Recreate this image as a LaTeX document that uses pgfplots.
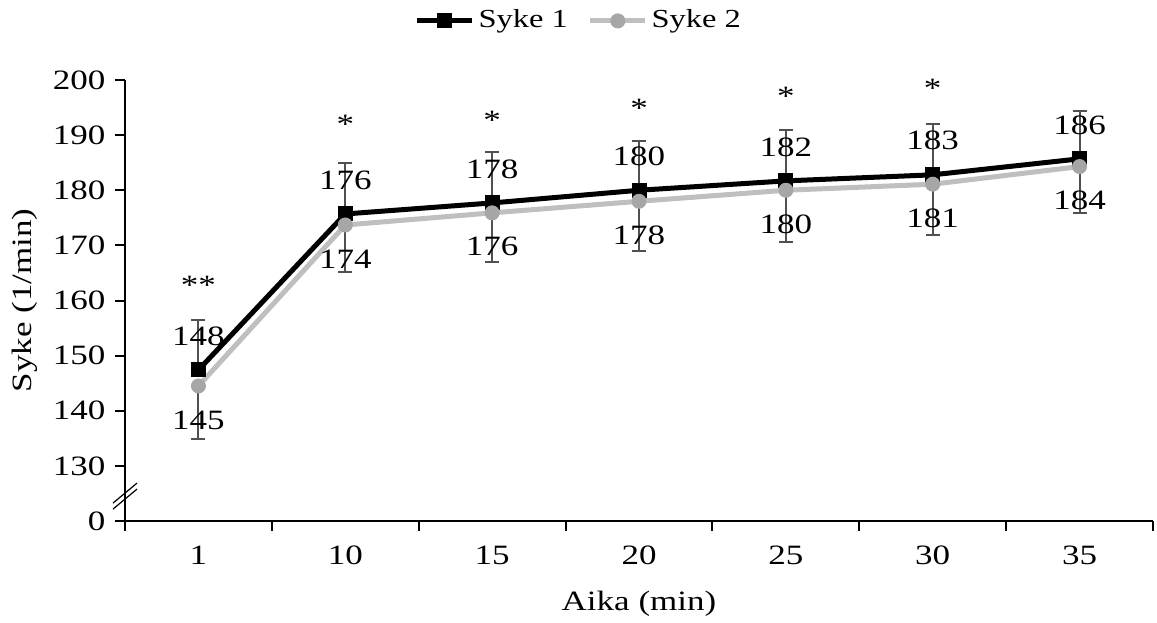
\documentclass[border=0pt]{standalone}
\usepackage{pgfplots}
\pgfplotsset{compat=1.18}
\usepackage{pgfplotstable}
\usepackage{fontspec}
\setmainfont[FakeStretch=1.25]{Liberation Serif}
\definecolor{sykeB}{HTML}{BFBFBF}
\definecolor{sykeBm}{HTML}{A6A6A6}
\definecolor{errc}{HTML}{505050}

\pgfplotstableread{
x y e lab
0 147.4 9.1 148
1 175.7 9.2 176
2 177.7 9.2 178
3 180.0 8.9 180
4 181.7 9.3 182
5 182.8 9.2 183
6 185.7 8.7 186
}\sykeone
\pgfplotstableread{
x y e lab
0 144.5 9.7 145
1 173.7 8.5 174
2 175.9 8.9 176
3 178.0 9.0 178
4 180.0 9.3 180
5 181.1 9.2 181
6 184.3 8.4 184
}\syketwo
\pgfplotstableread{
x y lab
0 162.8 {**}
1 191.9 {*}
2 192.6 {*}
3 194.8 {*}
4 197.1 {*}
5 198.4 {*}
}\stars

\begin{document}
\fontsize{14}{17}\selectfont
\begin{tikzpicture}[font=\fontsize{14}{17}\selectfont]
\path[use as bounding box] (-62.5pt,-50.5pt) rectangle (516pt,260.5pt);
\begin{axis}[
  at={(0pt,0pt)}, anchor=south west,
  scale only axis, width=514pt, height=220.5pt,
  xmin=-0.5, xmax=6.5, ymin=120, ymax=200,
  axis x line*=bottom, axis y line*=left,
  axis line style={-, line width=1pt, black},
  tick align=outside,
  tick style={line width=1pt, black},
  major tick length=5pt,
  ytick={120,130,...,200},
  yticklabels={0,130,140,150,160,170,180,190,200},
  yticklabel style={xshift=0pt},
  xtick={-0.5,0.5,...,6.5},
  xticklabels={},
  extra x ticks={0,1,2,3,4,5,6},
  extra x tick labels={1,10,15,20,25,30,35},
  extra x tick style={major tick length=0pt, xticklabel style={yshift=-7.8pt}},
  /pgf/number format/assume math mode=true,
  xlabel={Aika (min)}, ylabel={Syke (1/min)},
  every axis x label/.style={at={(axis description cs:0.5,0)}, anchor=center, yshift=-41.5pt},
  every axis y label/.style={at={(axis description cs:0,0.5)}, anchor=center, rotate=90, yshift=50pt},
  legend style={at={(axis description cs:0.4426,1.134)}, anchor=center, draw=none, fill=none,
    font=\fontsize{13}{16}\selectfont,
    legend columns=2, /tikz/every even column/.append style={column sep=8pt},
    /tikz/every odd column/.append style={inner xsep=1pt}},
  legend image code/.code={\draw[mark repeat=2, mark phase=2] plot coordinates {(0cm,0cm) (0.48cm,0cm) (0.96cm,0cm)};},
  clip=false,
]
\addplot[black, line width=2.5pt, mark=square*, mark size=3.5pt, mark options={solid, line width=0.5pt},
  error bars/.cd, y dir=plus, y explicit,
  error bar style={errc, line width=1pt},
  error mark options={rotate=90, mark size=3.5pt, errc, line width=1pt}]
  table[x=x, y=y, y error=e] {\sykeone};
\addlegendentry{Syke 1}
\addplot[sykeB, line width=2.5pt, mark=*, mark size=3.5pt, mark options={solid, fill=sykeBm, draw=sykeBm, line width=0.5pt},
  error bars/.cd, y dir=minus, y explicit,
  error bar style={errc, line width=1pt},
  error mark options={rotate=90, mark size=3.5pt, errc, line width=1pt}]
  table[x=x, y=y, y error=e] {\syketwo};
\addlegendentry{Syke 2}
\addplot[draw=none, mark=none, forget plot, point meta=explicit symbolic,
  nodes near coords, every node near coord/.style={anchor=center, yshift=17pt, text=black}]
  table[x=x, y=y, meta=lab] {\sykeone};
\addplot[draw=none, mark=none, forget plot, point meta=explicit symbolic,
  nodes near coords, every node near coord/.style={anchor=center, yshift=-17pt, text=black}]
  table[x=x, y=y, meta=lab] {\syketwo};
\addplot[draw=none, mark=none, forget plot, point meta=explicit symbolic,
  nodes near coords, every node near coord/.style={anchor=center, text=black}]
  table[x=x, y=y, meta=lab] {\stars};
\draw[line width=0.6pt] ([shift={(-6pt,-7pt)}]axis cs:-0.5,124.7) -- ++(12pt,10pt);
\draw[line width=0.6pt] ([shift={(-6pt,-4pt)}]axis cs:-0.5,124.7) -- ++(12pt,10pt);
\end{axis}
\end{tikzpicture}
\end{document}
